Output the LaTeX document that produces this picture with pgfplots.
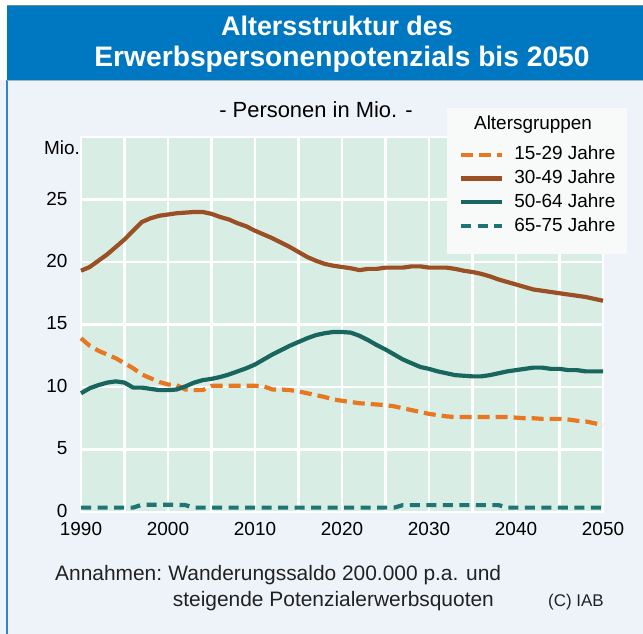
\documentclass[border=0pt]{standalone}
\usepackage{fontspec}
\setmainfont{Liberation Sans}
\usepackage{pgfplots}
\usepackage{pgfplotstable}
\pgfplotsset{compat=1.18}
\definecolor{titleblue}{HTML}{0077C1}
\definecolor{panelbg}{HTML}{EEF3FA}
\definecolor{plotbg}{HTML}{D8EDE4}
\definecolor{cOrange}{HTML}{E87722}
\definecolor{cBrown}{HTML}{9A5024}
\definecolor{cTeal}{HTML}{19665F}
\definecolor{cTealB}{HTML}{1F7574}
\definecolor{legbg}{HTML}{F7FAF8}
\definecolor{frameblue}{HTML}{2E86C8}

\pgfplotstableread{
year a b c d
1990 13.9 19.3 9.5 0.35
1991 13.3 19.6 9.9 0.35
1992 12.9 20.1 10.15 0.35
1993 12.6 20.6 10.35 0.35
1994 12.3 21.2 10.45 0.35
1995 11.9 21.8 10.35 0.35
1996 11.5 22.5 9.95 0.35
1997 11.0 23.2 9.95 0.58
1998 10.7 23.5 9.85 0.58
1999 10.4 23.7 9.75 0.58
2000 10.2 23.8 9.75 0.58
2001 10.15 23.9 9.8 0.58
2002 9.8 23.95 10.05 0.55
2003 9.75 24.0 10.35 0.35
2004 9.75 24.0 10.55 0.35
2005 10.1 23.85 10.65 0.35
2006 10.1 23.6 10.8 0.35
2007 10.1 23.4 11.0 0.35
2008 10.1 23.1 11.25 0.35
2009 10.1 22.85 11.5 0.35
2010 10.1 22.5 11.8 0.35
2011 10.05 22.2 12.2 0.35
2012 9.8 21.9 12.6 0.35
2013 9.8 21.55 12.95 0.35
2014 9.75 21.2 13.3 0.35
2015 9.65 20.8 13.6 0.35
2016 9.5 20.4 13.9 0.35
2017 9.35 20.1 14.15 0.35
2018 9.2 19.85 14.3 0.35
2019 9.0 19.7 14.4 0.35
2020 8.9 19.6 14.4 0.35
2021 8.8 19.5 14.35 0.35
2022 8.7 19.35 14.1 0.35
2023 8.65 19.45 13.75 0.35
2024 8.6 19.45 13.35 0.35
2025 8.55 19.55 13.0 0.35
2026 8.45 19.55 12.6 0.35
2027 8.3 19.55 12.2 0.55
2028 8.15 19.65 11.9 0.55
2029 8.0 19.65 11.6 0.55
2030 7.85 19.55 11.45 0.55
2031 7.75 19.55 11.25 0.55
2032 7.65 19.55 11.1 0.55
2033 7.6 19.45 10.95 0.55
2034 7.6 19.3 10.9 0.55
2035 7.6 19.2 10.85 0.55
2036 7.6 19.05 10.85 0.55
2037 7.6 18.85 10.95 0.55
2038 7.6 18.6 11.1 0.55
2039 7.6 18.4 11.25 0.35
2040 7.55 18.2 11.35 0.35
2041 7.5 18.0 11.45 0.35
2042 7.5 17.8 11.55 0.35
2043 7.45 17.7 11.55 0.35
2044 7.45 17.6 11.45 0.35
2045 7.45 17.5 11.45 0.35
2046 7.4 17.4 11.35 0.35
2047 7.3 17.3 11.35 0.35
2048 7.25 17.2 11.25 0.35
2049 7.1 17.05 11.25 0.35
2050 6.95 16.9 11.25 0.35
}\datatable

\begin{document}
\begin{tikzpicture}[x=1bp,y=1bp]
\useasboundingbox (0,0) rectangle (643,634);
\fill[white] (0,0) rectangle (643,634);
\fill[panelbg] (0,0) rectangle (643,554);
\draw[frameblue, line width=2bp] (7,0) -- (7,554);
\fill[titleblue] (7,554) rectangle (643,628);
\draw[black!45!teal!60, line width=1bp] (7,628) -- (643,628);
\draw[black!30!teal!40, line width=0.8bp] (7,554) -- (643,554);
\node[anchor=base, inner sep=0, text=white, font=\bfseries\fontsize{27}{30}\selectfont] at (337,598) {Altersstruktur des};
\node[anchor=base, inner sep=0, text=white, font=\bfseries\fontsize{28.3}{31}\selectfont] at (342,567) {Erwerbspersonenpotenzials bis 2050};
\node[anchor=base, inner sep=0, font=\fontsize{22}{26}\selectfont] at (316,516) {- Personen in Mio. -};

\begin{axis}[
  at={(81bp,122bp)}, anchor=south west, scale only axis,
  width=522bp, height=375bp,
  xmin=1990, xmax=2050, ymin=0, ymax=30,
  axis background/.style={fill=plotbg},
  axis line style={draw=white, line width=2.5bp},
  grid=both,
  major grid style={white, line width=2.5bp},
  minor grid style={white, line width=2.5bp},
  xtick={1990,2000,...,2050}, minor xtick={1995,2005,...,2045},
  ytick={0,5,...,30}, yticklabels={0,5,10,15,20,25,{}},
  major tick length=0pt, minor tick length=0pt,
  tick label style={font=\fontsize{19}{22}\selectfont},
  /pgf/number format/1000 sep={},
  /pgf/number format/assume math mode=true,
  xticklabel style={yshift=-7bp},
  yticklabel style={xshift=-10bp, yshift=1bp},
  clip=false,
  legend style={at={(rel axis cs:0.724,0.976)}, anchor=north west,
    fill=none, draw=none, inner sep=0pt, row sep=6.8bp, column sep=10bp,
    font=\fontsize{19}{22}\selectfont,
    nodes={inner sep=0pt, text height=13.5bp, text depth=3.5bp}},
  legend cell align=left,
  legend image code/.code={\draw[#1] (-3bp,0bp) -- (38bp,0bp);},
]
\fill[legbg] (rel axis cs:0.701,1.077) rectangle (rel axis cs:1.046,0.688);
\node[anchor=base, inner sep=0, font=\fontsize{19}{22}\selectfont] at (rel axis cs:0.866,1.019) {Altersgruppen};
\node[anchor=base east, inner sep=0, font=\fontsize{19}{22}\selectfont] at (axis cs:1990,28.58) {Mio.\kern1bp};
\addplot[cOrange, line width=4.2bp, dash pattern=on 12bp off 6bp] table[x=year,y=a] {\datatable};
\addlegendentry{15-29 Jahre}
\addplot[cBrown, line width=4.2bp] table[x=year,y=b] {\datatable};
\addlegendentry{30-49 Jahre}
\addplot[cTeal, line width=4.2bp] table[x=year,y=c] {\datatable};
\addlegendentry{50-64 Jahre}
\addplot[cTealB, line width=4.2bp, dash pattern=on 10bp off 6.5bp] table[x=year,y=d] {\datatable};
\addlegendentry{65-75 Jahre}
\end{axis}

\node[anchor=base west, inner sep=0, text=black!87, font=\fontsize{21}{25}\selectfont] at (55,53) {Annahmen:\kern-1.5bp{} Wanderungssaldo 200.000 p.a. und};
\node[anchor=base west, inner sep=0, text=black!87, font=\fontsize{21}{25}\selectfont] at (172.7,27.3) {steigende Potenzialerwerbsquoten};
\node[anchor=base west, inner sep=0, text=black!87, font=\fontsize{17}{20}\selectfont] at (548,27) {(C) IAB};
\end{tikzpicture}
\end{document}
